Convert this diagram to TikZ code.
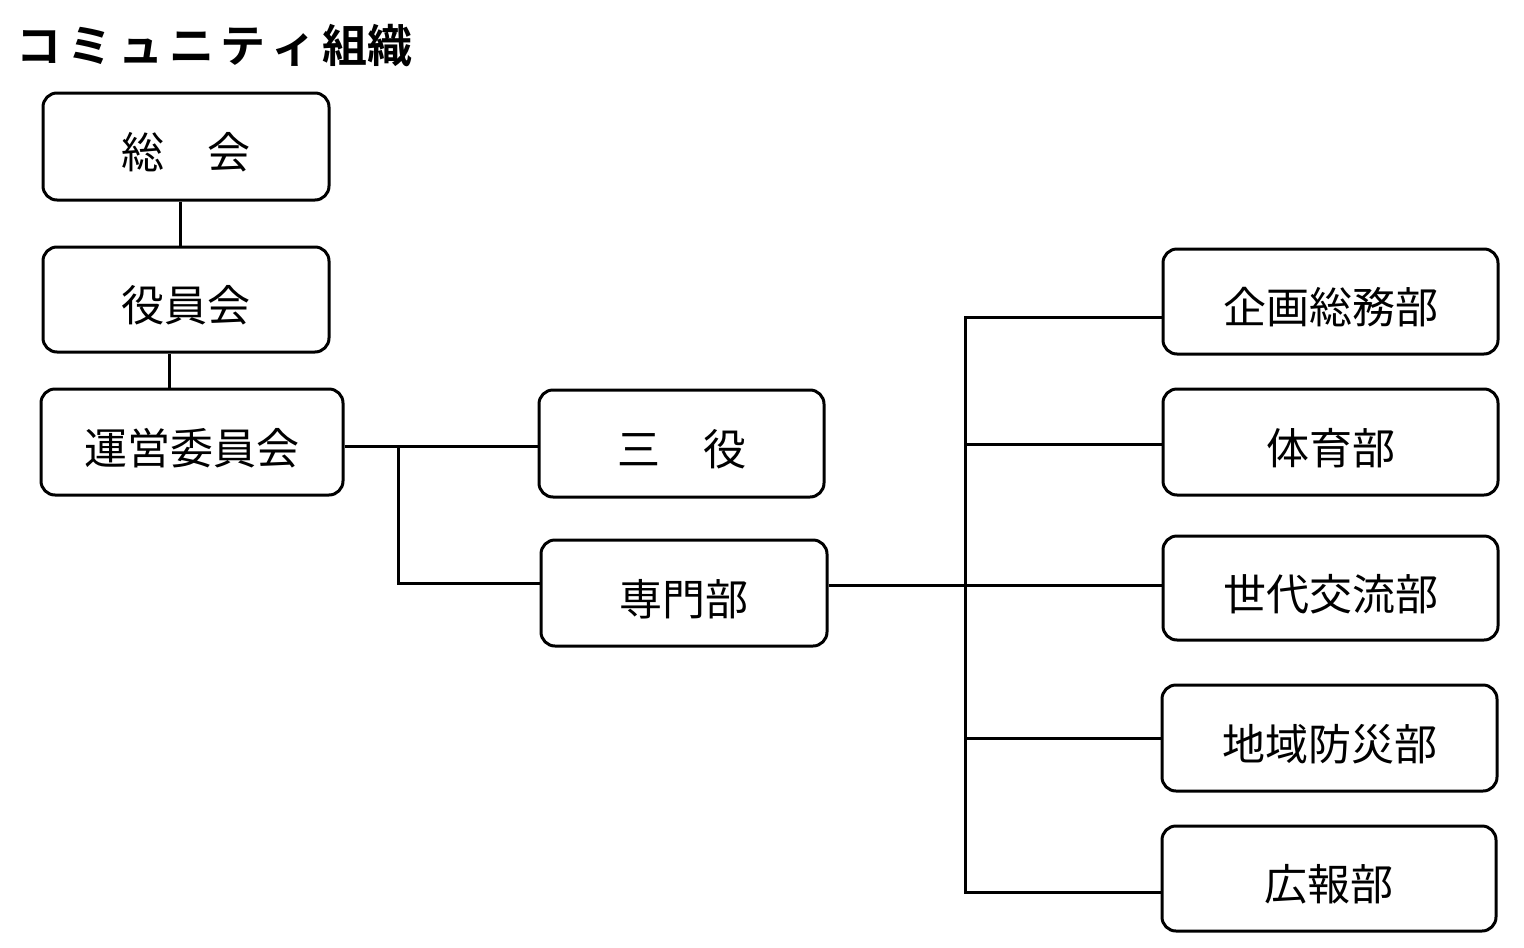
\documentclass[tikz,border=0pt]{standalone}
\usepackage{fontspec}
\newfontfamily\jp{Noto Sans CJK JP}
\newfontfamily\jpb{Noto Sans CJK JP Bold}
\begin{document}
\begin{tikzpicture}[x=1pt,y=-1pt,
  box/.style={draw,line width=3pt,rounded corners=14pt,inner sep=0pt,text depth=0pt,font=\jp\fontsize{43}{46}\selectfont},
  conn/.style={line width=3pt}]
\useasboundingbox (0,0) rectangle (1524,948);
\node[anchor=west,font=\jpb\fontsize{45}{48}\selectfont,inner sep=0pt] (title) at (16,46) {コ\kern6pt ミ\kern6pt ュ\kern6pt ニ\kern6pt テ\kern6pt ィ\kern6pt 組織};
\node[box,minimum width=286pt,minimum height=107pt] (soukai) at (186,146.5) {\raisebox{-8pt}{総　会}};
\node[box,minimum width=286pt,minimum height=105pt] (yakuin) at (186,299.5) {\raisebox{-8pt}{役員会}};
\node[box,minimum width=302pt,minimum height=106pt] (unei) at (192,442) {\raisebox{-8pt}{運営委員会}};
\node[box,minimum width=285pt,minimum height=107pt] (sanyaku) at (681.5,443.5) {\raisebox{-8pt}{三　役}};
\node[box,minimum width=286pt,minimum height=106pt] (senmon) at (684,593) {\raisebox{-8pt}{専門部}};
\node[box,minimum width=335pt,minimum height=105pt] (kikaku) at (1330.5,301.5) {\raisebox{-8pt}{企画総務部}};
\node[box,minimum width=335pt,minimum height=106pt] (taiiku) at (1330.5,442) {\raisebox{-8pt}{体育部}};
\node[box,minimum width=335pt,minimum height=104pt] (sedai) at (1330.5,588) {\raisebox{-8pt}{世代交流部}};
\node[box,minimum width=335pt,minimum height=106pt] (chiiki) at (1329.5,738) {\raisebox{-8pt}{地域防災部}};
\node[box,minimum width=334pt,minimum height=105pt] (kouhou) at (1329,878.5) {\raisebox{-8pt}{広報部}};
\draw[conn] (soukai.south) ++(-6,0) coordinate (a1) -- (a1 |- yakuin.north);
\draw[conn] (yakuin.south) ++(-17,0) coordinate (a2) -- (a2 |- unei.north);
\coordinate (b1) at (398,446);
\coordinate (bus) at (965,585);
\draw[conn] (unei.east |- b1) -- (sanyaku.west |- b1);
\draw[conn] (b1) |- (senmon.west |- 0,583);
\draw[conn] (senmon.east |- bus) -- (sedai.west |- bus);
\draw[conn] (kikaku.west |- 0,317) -| (965,892) -- (kouhou.west |- 0,892);
\draw[conn] (965,444) -- (taiiku.west |- 0,444);
\draw[conn] (965,738) -- (chiiki.west |- 0,738);
\end{tikzpicture}
\end{document}
